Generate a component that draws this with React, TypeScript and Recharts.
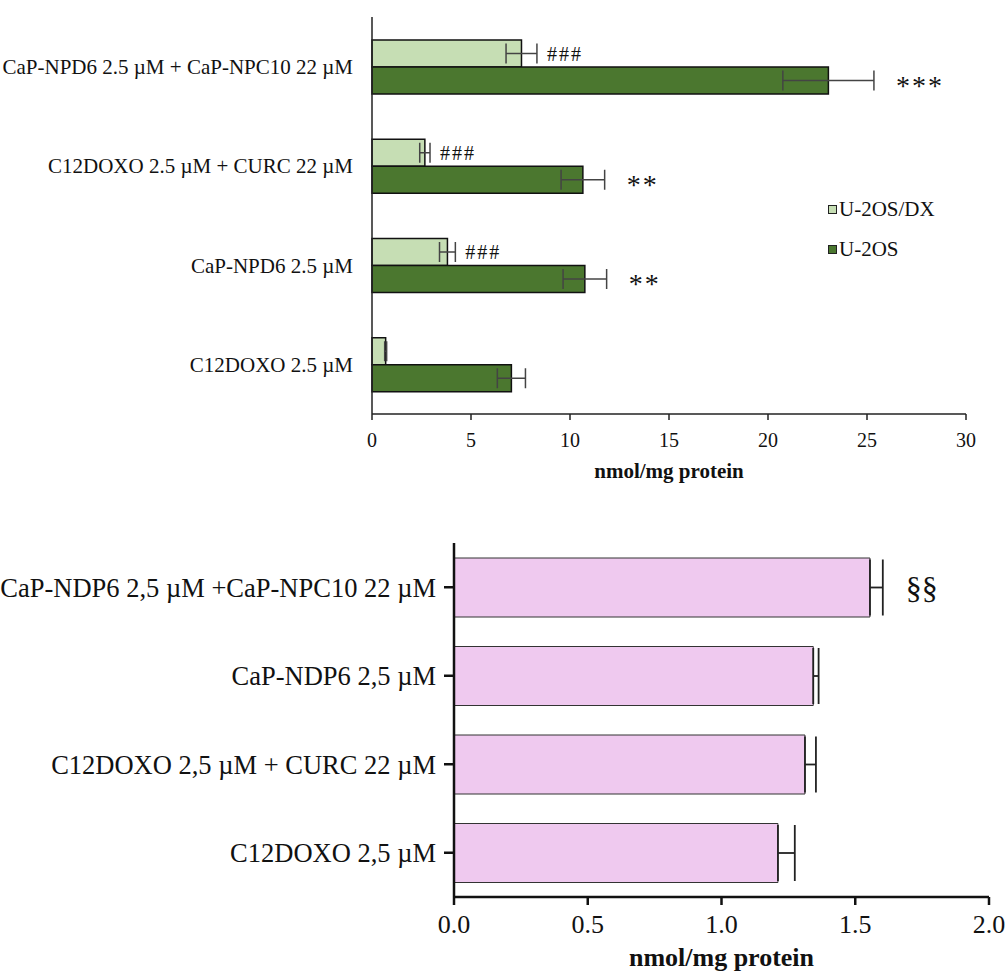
import { Bar, BarChart, ErrorBar, Label, LabelList, Legend, XAxis, YAxis } from "recharts";

const SERIF = "'Liberation Serif', 'Times New Roman', serif";

// top panel: uptake in both cell lines
const uptakeGroups = [
  "CaP-NPD6 2.5 µM + CaP-NPC10 22 µM",
  "C12DOXO 2.5 µM + CURC 22 µM",
  "CaP-NPD6 2.5 µM",
  "C12DOXO 2.5 µM",
];
const dxValues = [7.55, 2.67, 3.81, 0.69];
const dxErrors = [0.78, 0.26, 0.4, 0.05];
const dxMarks = ["###", "###", "###", ""];
const u2osValues = [23.05, 10.65, 10.75, 7.04];
const u2osErrors = [2.3, 1.1, 1.1, 0.71];
const u2osMarks = ["***", "**", "**", ""];
const uptakeTicks = [0, 5, 10, 15, 20, 25, 30];

// bottom panel
const ratioGroups = [
  "CaP-NDP6 2,5 µM +CaP-NPC10 22 µM",
  "CaP-NDP6 2,5 µM",
  "C12DOXO 2,5 µM + CURC 22 µM",
  "C12DOXO 2,5 µM",
];
const ratioValues = [1.555, 1.343, 1.312, 1.211];
const ratioErrors = [0.048, 0.02, 0.041, 0.063];
const ratioMarks = ["§§", "", "", ""];
const ratioTicks = [0, 0.5, 1, 1.5, 2];

const COLORS = {
  dx: "#c6deb4",
  u2os: "#4b772f",
  pink: "#efc9ef",
  ink: "#111",
  err: "#444",
};

const uptakeData = uptakeGroups.map((name, i) => ({
  name,
  dx: dxValues[i],
  dxErr: dxErrors[i],
  dxMark: dxMarks[i],
  u2os: u2osValues[i],
  u2osErr: u2osErrors[i],
  u2osMark: u2osMarks[i],
}));

const ratioData = ratioGroups.map((name, i) => ({
  name,
  value: ratioValues[i],
  err: [0, ratioErrors[i]],
  mark: ratioMarks[i],
}));

// significance marks placed just past the end of the error bar
const markLabel =
  (values: number[], errors: number[], gap: number, fontSize: number, dy: number, spacing: number) =>
  (props: any) => {
    const vb = props.viewBox ?? props;
    const { x, y, width, height } = vb;
    const { value, index } = props;
    if (!value) return null;
    const errPx = (Number(width) * errors[index]) / values[index];
    return (
      <text
        x={x + width + errPx + gap}
        y={y + height / 2 + dy}
        fontSize={fontSize}
        letterSpacing={spacing}
        fill={COLORS.ink}
        fontFamily={SERIF}
      >
        {value}
      </text>
    );
  };

const renderLegend = (props: any) => (
  <div style={{ display: "flex", flexDirection: "column", gap: 17 }}>
    {(props.payload ?? []).map((p: any) => (
      <div
        key={p.value}
        style={{ display: "flex", alignItems: "center", fontSize: 21, lineHeight: "23px", color: COLORS.ink }}
      >
        <span
          style={{
            display: "inline-block",
            width: 7,
            height: 7,
            border: "1.5px solid #222",
            background: p.color,
            marginRight: 2,
          }}
        />
        {p.value}
      </div>
    ))}
  </div>
);

export default function App() {
  return (
    <div
      style={{
        position: "absolute",
        left: 0,
        top: 0,
        width: 1006,
        height: 975,
        background: "#fff",
        fontFamily: SERIF,
      }}
    >
      <BarChart
        width={1006}
        height={500}
        layout="vertical"
        data={uptakeData}
        margin={{ top: 17, right: 40, bottom: 16, left: 0 }}
        barCategoryGap={23}
        barGap={0}
      >
        <XAxis
          type="number"
          domain={[0, 30]}
          ticks={uptakeTicks}
          height={70}
          stroke="#222"
          strokeWidth={1.5}
          tickSize={6}
          tickMargin={13}
          tick={{ fontSize: 20, fill: COLORS.ink }}
        >
          <Label
            value="nmol/mg protein"
            position="insideBottom"
            offset={6}
            style={{ fontSize: 21, fontWeight: "bold", fill: COLORS.ink }}
          />
        </XAxis>
        <YAxis
          type="category"
          dataKey="name"
          width={372}
          stroke="#222"
          strokeWidth={1.5}
          tickLine={false}
          tickSize={0}
          tickMargin={19}
          tick={{ fontSize: 21, fill: COLORS.ink }}
        />
        <Legend
          layout="vertical"
          align="center"
          verticalAlign="middle"
          content={renderLegend}
          itemSorter={(item: any) => (item.dataKey === "dx" ? 0 : 1)}
          wrapperStyle={{ left: 828, top: 198, width: "auto" }}
        />
        <Bar dataKey="dx" name="U-2OS/DX" fill={COLORS.dx} stroke="#111" strokeWidth={1.5} isAnimationActive={false}>
          <ErrorBar dataKey="dxErr" direction="x" width={10} stroke={COLORS.err} strokeWidth={1.5} />
          <LabelList dataKey="dxMark" content={markLabel(dxValues, dxErrors, 10, 20, 7, 2)} />
        </Bar>
        <Bar dataKey="u2os" name="U-2OS" fill={COLORS.u2os} stroke="#111" strokeWidth={1.5} isAnimationActive={false}>
          <ErrorBar dataKey="u2osErr" direction="x" width={10} stroke={COLORS.err} strokeWidth={1.5} />
          <LabelList dataKey="u2osMark" content={markLabel(u2osValues, u2osErrors, 22, 28, 14, 2)} />
        </Bar>
      </BarChart>

      <div style={{ position: "absolute", left: 0, top: 500 }}>
        <BarChart
          width={1006}
          height={475}
          layout="vertical"
          data={ratioData}
          margin={{ top: 43, right: 17, bottom: 0, left: 0 }}
          barCategoryGap={15}
        >
          <XAxis
            type="number"
            domain={[0, 2]}
            ticks={ratioTicks}
            tickFormatter={(v: number) => v.toFixed(1)}
            height={78}
            stroke="#111"
            strokeWidth={2.5}
            tickSize={8}
            tickMargin={10}
            tick={{ fontSize: 26, fill: COLORS.ink }}
          >
            <Label
              value="nmol/mg protein"
              position="insideBottom"
              offset={9}
              style={{ fontSize: 26, fontWeight: "bold", fill: COLORS.ink }}
            />
          </XAxis>
          <YAxis
            type="category"
            dataKey="name"
            width={454}
            stroke="#111"
            strokeWidth={2.5}
            tickSize={10}
            tickMargin={8}
            tick={{ fontSize: 26.5, fill: COLORS.ink }}
          />
          <Bar dataKey="value" fill={COLORS.pink} stroke="#333" strokeWidth={1} isAnimationActive={false}>
            <ErrorBar dataKey="err" direction="x" width={28} stroke="#222" strokeWidth={1.8} />
            <LabelList dataKey="mark" content={markLabel(ratioValues, ratioErrors, 23, 32, 11, 0)} />
          </Bar>
        </BarChart>
      </div>
    </div>
  );
}
